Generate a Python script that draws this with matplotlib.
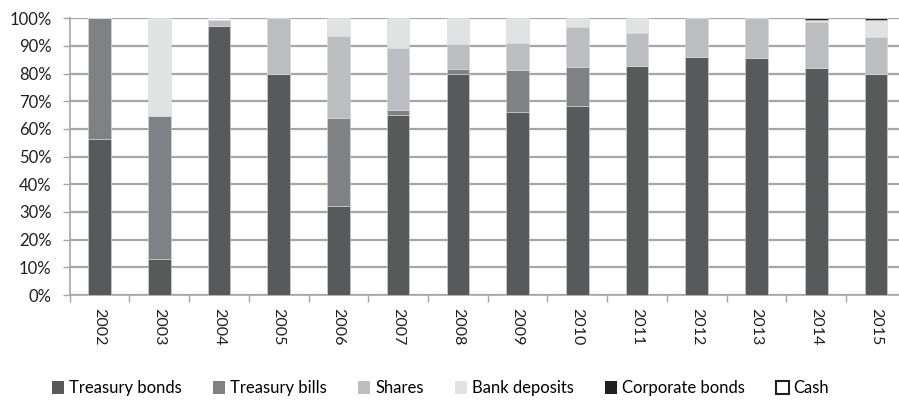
import numpy as np
import matplotlib
matplotlib.use("Agg")
import matplotlib.pyplot as plt
from matplotlib.patches import Patch
from matplotlib.ticker import FixedLocator

plt.rcParams["font.family"] = ["Lato", "DejaVu Sans"]

years = ["2002", "2003", "2004", "2005", "2006", "2007", "2008",
         "2009", "2010", "2011", "2012", "2013", "2014", "2015"]

treasury_bonds = [56.2, 12.9, 97.2, 80.0, 32.1, 65.0, 79.8, 66.1, 68.2, 82.9, 85.8, 85.6, 81.9, 79.8]
treasury_bills = [43.8, 51.7, 0.0, 0.0, 32.0, 1.7, 2.0, 15.2, 14.1, 0.0, 0.0, 0.0, 0.0, 0.0]
shares = [0.0, 0.0, 2.3, 20.0, 29.5, 22.4, 8.8, 9.7, 14.5, 11.7, 14.2, 14.4, 16.8, 13.3]
bank_deposits = [0.0, 35.4, 0.0, 0.0, 6.4, 10.9, 9.4, 9.0, 3.2, 5.4, 0.0, 0.0, 0.7, 6.4]
corporate_bonds = [0.0, 0.0, 0.0, 0.0, 0.0, 0.0, 0.0, 0.0, 0.0, 0.0, 0.0, 0.0, 0.6, 0.5]
cash = [0.0, 0.0, 0.5, 0.0, 0.0, 0.0, 0.0, 0.0, 0.0, 0.0, 0.0, 0.0, 0.0, 0.0]

series = [
    ("Treasury bonds", treasury_bonds, "#58595b"),
    ("Treasury bills", treasury_bills, "#808184"),
    ("Shares", shares, "#bcbdc0"),
    ("Bank deposits", bank_deposits, "#e1e2e3"),
    ("Corporate bonds", corporate_bonds, "#231f20"),
    ("Cash", cash, "#ffffff"),
]

fig = plt.figure(figsize=(8.99, 4.13), dpi=100)
ax = fig.add_axes([0.0775, 0.2857, 0.93, 0.6703])

x = np.arange(len(years))
bottom = np.zeros(len(years))
for name, vals, col in series:
    vals = np.array(vals)
    ax.bar(x, vals, width=0.38, bottom=bottom, color=col,
           edgecolor="#d8d8d8", linewidth=0.4, zorder=3)
    bottom += vals

ax.set_xlim(-0.5, len(years) - 0.5)
ax.set_ylim(0, 100)
ax.set_yticks(np.arange(0, 101, 10))
ax.set_yticklabels([f"{v}%" for v in range(0, 101, 10)], fontsize=12, color="#231f20")
ax.yaxis.grid(True, color="#a6a6a6", linewidth=1.6, zorder=0)
ax.set_axisbelow(True)

ax.set_xticks(x)
ax.set_xticklabels(years, rotation=-90, fontsize=11.5, color="#231f20")
ax.xaxis.set_minor_locator(FixedLocator(np.arange(-0.5, len(years), 1.0)))
ax.tick_params(axis="x", which="major", length=0, pad=9)
ax.tick_params(axis="x", which="minor", length=5, color="#a6a6a6", width=1)
ax.tick_params(axis="y", length=5, color="#a6a6a6", width=1, pad=8)

for s in ["top", "right"]:
    ax.spines[s].set_visible(False)
for s in ["left", "bottom"]:
    ax.spines[s].set_color("#a6a6a6")
    ax.spines[s].set_linewidth(1.2)

handles = [Patch(facecolor=col, edgecolor=("#231f20" if name == "Cash" else "none"),
                 linewidth=1.5, label=name) for name, _, col in series]
fig.legend(handles=handles, loc="center", bbox_to_anchor=(0.49, 0.06), ncol=6,
           frameon=False, fontsize=12, handlelength=0.75, handleheight=0.75,
           handletextpad=0.3, columnspacing=1.85)

fig.savefig("out.png", dpi=100)
